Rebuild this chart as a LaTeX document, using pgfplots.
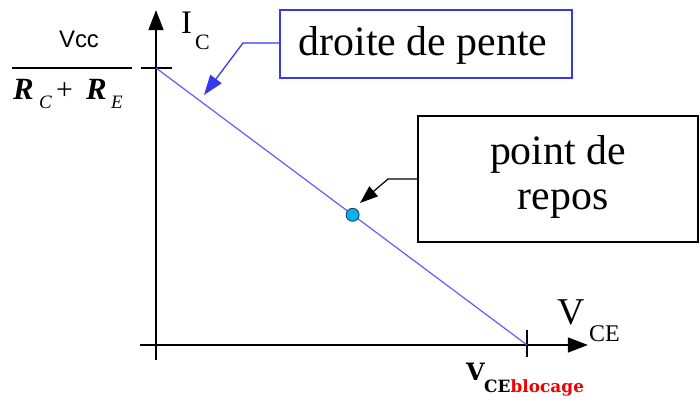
\documentclass[border=0pt]{standalone}
\usepackage{pgfplots}
\pgfplotsset{compat=1.18}
\usetikzlibrary{arrows.meta}
\usepackage{fontspec}
\setmainfont{Liberation Serif}
\newfontfamily\arial{Liberation Sans}
\newfontfamily\dvserif{DejaVu Serif}
\definecolor{loadline}{RGB}{95,95,250}
\definecolor{boxblue}{RGB}{55,55,235}
\definecolor{qpoint}{RGB}{0,178,240}
\definecolor{redlbl}{RGB}{240,0,0}
\newcommand{\fs}[1]{\fontsize{#1}{#1}\selectfont}
\begin{document}
\begin{tikzpicture}
\useasboundingbox (0,0) rectangle (700bp,402bp);
\begin{axis}[
  at={(0,0)}, anchor=south west,
  width=700bp, height=402bp, scale only axis,
  xmin=-0.42049, xmax=1.46631,
  ymin=-0.20578, ymax=1.24549,
  hide axis, clip=false]
  % axes with arrow heads
  \draw[line width=1.6bp, -{Triangle[length=20bp,width=15bp]}]
    (axis cs:-0.043,0) -- (axis cs:1.164,0);
  \draw[line width=1.6bp, -{Triangle[length=20bp,width=15bp]}]
    (axis cs:0,-0.054) -- (axis cs:0,1.209);
  % ticks at the intercepts
  \draw[line width=1.6bp] (axis cs:-0.04,1) -- (axis cs:0.043,1);
  \draw[line width=1.6bp] (axis cs:1,0.054) -- (axis cs:1,-0.043);
  % load line
  \addplot[color=loadline, line width=1.2bp] coordinates {(0,1) (1,0)};
  % quiescent point
  \addplot[only marks, mark=*, mark size=6.5bp,
    mark options={fill=qpoint, draw=black!80, line width=0.8bp}]
    coordinates {(0.53,0.47)};
\end{axis}
\begin{scope}[shift={(0,402bp)}, x=1bp, y=-1bp]
  % axis names
  \node[anchor=base west, inner sep=0] at (181,34) {\fs{33}I};
  \node[anchor=base west, inner sep=0] at (195,50) {\fs{22}C};
  \node[anchor=base west, inner sep=0] at (557,325) {\fs{38}V};
  \node[anchor=base west, inner sep=0] at (589,342) {\fs{24}CE};
  % intercept on the V_CE axis
  \node[anchor=base west, inner sep=0] at (466,381) {\dvserif\fs{24}\bfseries V};
  \node[anchor=base west, inner sep=0] at (484,393)
    {\dvserif\fs{17}\bfseries CE\textcolor{redlbl}{blocage}};
  % intercept on the I_C axis
  \node[anchor=base, inner sep=0] at (79,48) {\arial\fs{24}Vcc};
  \draw[line width=1.6bp] (12,68) -- (132,68);
  \node[anchor=base west, inner sep=0] at (13,100) {\fs{31}\bfseries\itshape R};
  \node[anchor=base west, inner sep=0] at (39,109) {\fs{19}\itshape C};
  \node[anchor=base west, inner sep=0] at (56,100) {\fs{30}+};
  \node[anchor=base west, inner sep=0] at (86,100) {\fs{31}\bfseries\itshape R};
  \node[anchor=base west, inner sep=0] at (111,109) {\fs{19}\itshape E};
  % callout for the load line
  \draw[boxblue, line width=1.8bp, fill=white] (280,10) rectangle (572,78);
  \node[anchor=base, inner sep=0] at (423,56) {\fs{42}droite de pente};
  \draw[boxblue, line width=1.3bp, -{Triangle[length=20bp,width=14bp]}]
    (280,43) -- (243,43) -- (204,95);
  % callout for the operating point
  \draw[black, line width=1.4bp, fill=white] (418,116) rectangle (698,242);
  \node[anchor=base, inner sep=0] at (558,165) {\fs{42}point de};
  \node[anchor=base, inner sep=0] at (563,210) {\fs{42}repos};
  \draw[black, line width=1.2bp, -{Triangle[length=18bp,width=13bp]}]
    (418,179) -- (388,179) -- (360,203);
\end{scope}
\end{tikzpicture}
\end{document}
